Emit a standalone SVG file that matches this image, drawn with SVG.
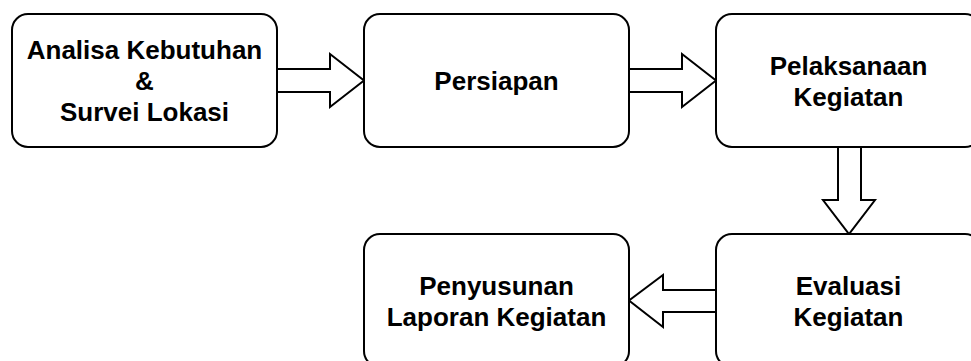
<svg xmlns="http://www.w3.org/2000/svg" width="971" height="361" viewBox="0 0 971 361">
<style>
.box{fill:#fff;stroke:#000;stroke-width:2}
.arr{fill:#fff;stroke:#000;stroke-width:2;stroke-linejoin:miter}
.t{font-family:"Liberation Sans",Arial,sans-serif;font-weight:bold;font-size:26px;fill:#000;text-anchor:middle}
</style>
<rect width="971" height="361" fill="#fff"/>
<g id="connectors">
<polygon class="arr" points="277,69 330,69 330,54 364,80.5 330,107 330,92 277,92"/>
<polygon class="arr" points="629,69 682,69 682,54 716,80.5 682,107 682,92 629,92"/>
<polygon class="arr" points="838,147 861,147 861,200 875,200 849,234 823,200 838,200"/>
<polygon class="arr" points="716,290 663,290 663,275 629,300.5 663,327 663,312 716,312"/>
</g>
<g id="n1">
<rect class="box" x="12" y="14" width="265" height="133" rx="16"/>
<text class="t" x="144.5" y="59">Analisa Kebutuhan</text>
<text class="t" x="144.5" y="90">&amp;</text>
<text class="t" x="144.5" y="121">Survei Lokasi</text>
</g>
<g id="n2">
<rect class="box" x="364" y="14" width="265" height="133" rx="16"/>
<text class="t" x="496.5" y="90">Persiapan</text>
</g>
<g id="n3">
<rect class="box" x="716" y="14" width="265" height="133" rx="16"/>
<text class="t" x="848.5" y="74.5">Pelaksanaan</text>
<text class="t" x="848.5" y="105.5">Kegiatan</text>
</g>
<g id="n4">
<rect class="box" x="716" y="234" width="265" height="133" rx="16"/>
<text class="t" x="848.5" y="294.5">Evaluasi</text>
<text class="t" x="848.5" y="325.5">Kegiatan</text>
</g>
<g id="n5">
<rect class="box" x="364" y="234" width="265" height="133" rx="16"/>
<text class="t" x="496.5" y="294.5">Penyusunan</text>
<text class="t" x="496.5" y="325.5">Laporan Kegiatan</text>
</g>
</svg>
